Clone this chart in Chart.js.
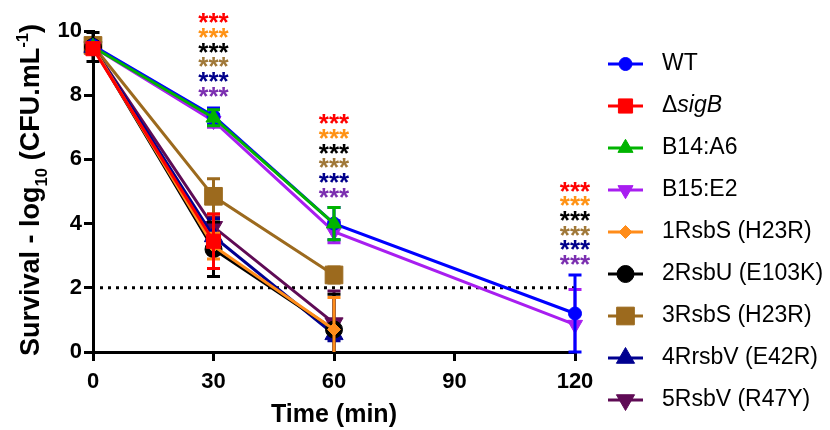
<!DOCTYPE html>
<html><head><meta charset="utf-8">
<script src="https://cdn.jsdelivr.net/npm/chart.js@4"></script>
<style>html,body{margin:0;padding:0;background:#fff}</style>
</head><body>
<canvas id="c" width="830" height="430"></canvas>
<script>
// ---------- data ----------
const times = [0, 30, 60, 120];
const xTicks = [0, 30, 60, 90, 120];
const yTicks = [0, 2, 4, 6, 8, 10];

const names = ["WT", "\u0394sigB", "B14:A6", "B15:E2", "1RsbS (H23R)", "2RsbU (E103K)", "3RsbS (H23R)", "4RrsbV (E42R)", "5RsbV (R47Y)"];
const wtVals     = [9.55, 7.35, 4.0, 1.2];
const wtErr      = [0.1, 0.25, 0.5, 1.2];
const sigBVals   = [9.45, 3.45];
const sigBErr    = [0.1, 0.85];
const b14Vals    = [9.5, 7.3, 4.0];
const b14Err     = [0.1, 0.25, 0.5];
const b15Vals    = [9.5, 7.2, 3.75, 0.85];
const b15Err     = [0.1, 0.2, 0.35, 1.1];
const rsbS1Vals  = [9.5, 3.3, 0.7];
const rsbS1Err   = [0.1, 0.4, 1.0];
const rsbU2Vals  = [9.5, 3.2, 0.7];
const rsbU2Err   = [0.45, 0.85, 1.1];
const rsbS3Vals  = [9.55, 4.85, 2.4];
const rsbS3Err   = [0.1, 0.55, 0.25];
const rsbV4Vals  = [9.5, 3.6, 0.55];
const rsbV4Err   = [0.1, 0.55, 0.2];
const rsbV5Vals  = [9.5, 3.9, 0.9];
const rsbV5Err   = [0.1, 0.3, 1.0];

const threshold = 2;
const starX = [30, 60, 120];
const starTopY = [10.4, 7.25, 5.15];
const starText = "***";
const starColors = ["#ff0000", "#ff9215", "#000000", "#a07838", "#00008b", "#7b2fb0"];

// ---------- styles ----------
const colors = ["#0000ff", "#ff0000", "#00b400", "#a81ef0", "#ff8c1a", "#000000", "#9c6a1e", "#000090", "#5f0b55"];
const styles = [
  {ps: "circle", r: 6.5, rot: 0},
  {ps: "rect", r: 10, rot: 0},
  {ps: "triangle", r: 8.7, rot: 0},
  {ps: "triangle", r: 8.7, rot: 180},
  {ps: "rectRot", r: 6.5, rot: 0},
  {ps: "circle", r: 8.5, rot: 0},
  {ps: "rect", r: 12.5, rot: 0},
  {ps: "triangle", r: 10.5, rot: 0},
  {ps: "triangle", r: 10.5, rot: 180}
];
const drawOrder = [3, 0, 2, 4, 5, 6, 8, 7, 9];

const allVals = [wtVals, sigBVals, b14Vals, b15Vals, rsbS1Vals, rsbU2Vals, rsbS3Vals, rsbV4Vals, rsbV5Vals];
const allErr  = [wtErr, sigBErr, b14Err, b15Err, rsbS1Err, rsbU2Err, rsbS3Err, rsbV4Err, rsbV5Err];

const datasets = allVals.map((vals, k) => ({
  label: names[k],
  data: vals.map((v, i) => ({x: times[i], y: v})),
  errors: allErr[k],
  borderColor: colors[k],
  backgroundColor: colors[k],
  borderWidth: 3,
  pointStyle: styles[k].ps,
  pointRadius: styles[k].r,
  pointHoverRadius: styles[k].r,
  pointRotation: styles[k].rot,
  pointBackgroundColor: colors[k],
  pointBorderColor: colors[k],
  pointBorderWidth: 1,
  tension: 0,
  clip: false,
  order: drawOrder[k]
}));

const FONT = "'Liberation Sans', Arial, sans-serif";

// ---------- plugins ----------
const errorBars = {
  id: "errorBars",
  beforeDatasetDraw(chart, args) {
    const ds = chart.data.datasets[args.index];
    const xs = chart.scales.x, ys = chart.scales.y;
    const ctx = chart.ctx;
    const bottom = chart.chartArea.bottom;
    ctx.save();
    ctx.strokeStyle = ds.borderColor;
    ctx.lineWidth = 3;
    ctx.lineCap = "butt";
    ds.data.forEach((p, i) => {
      const e = ds.errors[i];
      if (!e) return;
      const x = xs.getPixelForValue(p.x);
      const yt = ys.getPixelForValue(p.y + e);
      let yb = ys.getPixelForValue(p.y - e);
      const capB = yb <= bottom;
      if (yb > bottom) yb = bottom;
      ctx.beginPath();
      ctx.moveTo(x, yt); ctx.lineTo(x, yb);
      ctx.moveTo(x - 6.5, yt); ctx.lineTo(x + 6.5, yt);
      if (capB) { ctx.moveTo(x - 6.5, yb); ctx.lineTo(x + 6.5, yb); }
      ctx.stroke();
    });
    ctx.restore();
  }
};

const thresholdLine = {
  id: "thresholdLine",
  beforeDatasetsDraw(chart) {
    const xs = chart.scales.x, ys = chart.scales.y, ctx = chart.ctx;
    const y = ys.getPixelForValue(threshold);
    ctx.save();
    ctx.strokeStyle = "#000";
    ctx.lineWidth = 3;
    ctx.setLineDash([3, 5]);
    ctx.beginPath();
    ctx.moveTo(xs.getPixelForValue(0) + 7, y);
    ctx.lineTo(xs.getPixelForValue(120), y);
    ctx.stroke();
    ctx.restore();
  }
};

const stars = {
  id: "stars",
  afterDatasetsDraw(chart) {
    const xs = chart.scales.x, ys = chart.scales.y, ctx = chart.ctx;
    ctx.save();
    ctx.font = "bold 26px " + FONT;
    ctx.textAlign = "center";
    ctx.textBaseline = "alphabetic";
    const m = ctx.measureText(starText);
    const off = (m.actualBoundingBoxAscent - m.actualBoundingBoxDescent) / 2;
    starX.forEach((t, j) => {
      const x = xs.getPixelForValue(t);
      const y0 = ys.getPixelForValue(starTopY[j]);
      starColors.forEach((c, r) => {
        ctx.fillStyle = c;
        ctx.fillText(starText, x, y0 + r * 14.7 + off);
      });
    });
    ctx.restore();
  }
};

function drawMarker(ctx, st, color, x, y) {
  ctx.save();
  ctx.fillStyle = color; ctx.strokeStyle = color; ctx.lineWidth = 1;
  const opts = {pointStyle: st.ps, radius: st.r, rotation: st.rot, borderWidth: 1};
  if (Chart.helpers && Chart.helpers.drawPoint) {
    Chart.helpers.drawPoint(ctx, opts, x, y);
  } else {
    const pe = new Chart.PointElement({x, y, options: Object.assign({backgroundColor: color, borderColor: color}, opts)});
    pe.draw(ctx);
  }
  ctx.restore();
}

const decorations = {
  id: "decorations",
  afterDraw(chart) {
    const ctx = chart.ctx;
    // legend
    ctx.save();
    chart.data.datasets.forEach((ds, k) => {
      const y = 64 + k * 42;
      ctx.strokeStyle = colors[k];
      ctx.lineWidth = 3;
      ctx.beginPath(); ctx.moveTo(608, y); ctx.lineTo(643, y); ctx.stroke();
      drawMarker(ctx, styles[k], colors[k], 625.5, y);
      ctx.fillStyle = "#000";
      ctx.textBaseline = "middle";
      ctx.textAlign = "left";
      if (k === 1) {
        ctx.font = "23px " + FONT;
        ctx.fillText("\u0394", 662, y);
        const w = ctx.measureText("\u0394").width;
        ctx.font = "italic 23px " + FONT;
        ctx.fillText("sigB", 662 + w, y);
      } else {
        ctx.font = "23px " + FONT;
        ctx.fillText(names[k], 662, y);
      }
    });
    ctx.restore();

    // x title
    ctx.save();
    ctx.font = "bold 25px " + FONT;
    ctx.fillStyle = "#000";
    ctx.textAlign = "center";
    ctx.textBaseline = "alphabetic";
    ctx.fillText("Time (min)", (chart.chartArea.left + chart.chartArea.right) / 2, 422);
    ctx.restore();

    // y title with subscript / superscript
    const segs = [
      {t: "Survival - log", s: 1, dy: 0},
      {t: "10", s: 0.62, dy: 0.28},
      {t: " (CFU.mL", s: 1, dy: 0},
      {t: "-1", s: 0.62, dy: -0.42},
      {t: ")", s: 1, dy: 0}
    ];
    const fs = 27;
    ctx.save();
    ctx.fillStyle = "#000";
    ctx.textBaseline = "alphabetic";
    ctx.textAlign = "left";
    let total = 0;
    segs.forEach(sg => { ctx.font = "bold " + (fs * sg.s) + "px " + FONT; sg.w = ctx.measureText(sg.t).width; total += sg.w; });
    ctx.translate(39, 190);
    ctx.rotate(-Math.PI / 2);
    let cx = -total / 2;
    segs.forEach(sg => {
      ctx.font = "bold " + (fs * sg.s) + "px " + FONT;
      ctx.fillText(sg.t, cx, sg.dy * fs);
      cx += sg.w;
    });
    ctx.restore();
  }
};

new Chart(document.getElementById("c"), {
  type: "line",
  data: {datasets},
  options: {
    responsive: false,
    animation: false,
    devicePixelRatio: 1,
    layout: {padding: {left: 0, right: 255, top: 31, bottom: 0}},
    plugins: {legend: {display: false}, tooltip: {enabled: false}},
    scales: {
      x: {
        type: "linear", min: 0, max: 120,
        afterFit(s) { s.height = 78; },
        afterBuildTicks(s) { s.ticks = xTicks.map(v => ({value: v})); },
        ticks: {color: "#000", font: {family: FONT, size: 22, weight: "bold"}, padding: 8, maxRotation: 0},
        grid: {drawOnChartArea: false, drawTicks: true, tickLength: 9, color: "#000", lineWidth: 3},
        border: {display: true, color: "#000", width: 3}
      },
      y: {
        type: "linear", min: 0, max: 10,
        afterFit(s) { s.width = 93; },
        afterBuildTicks(s) { s.ticks = yTicks.map(v => ({value: v})); },
        ticks: {color: "#000", font: {family: FONT, size: 22, weight: "bold"}, padding: 2},
        grid: {drawOnChartArea: false, drawTicks: true, tickLength: 9, color: "#000", lineWidth: 3},
        border: {display: true, color: "#000", width: 3}
      }
    }
  },
  plugins: [errorBars, thresholdLine, stars, decorations]
});
</script>
</body></html>
